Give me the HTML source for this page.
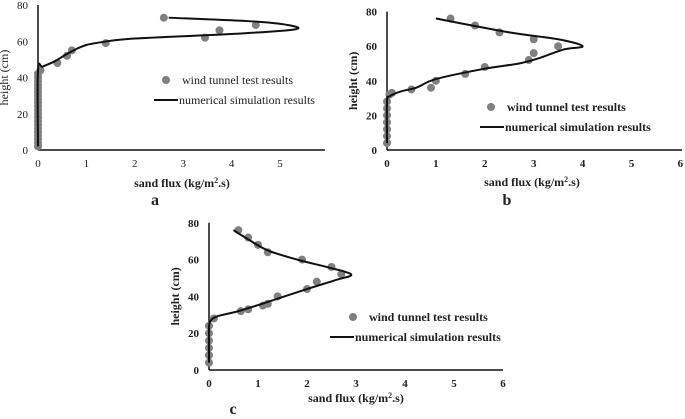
<!DOCTYPE html>
<html><head><meta charset="utf-8"><style>
html,body{margin:0;padding:0;background:#fff;}
svg{display:block;}
text{font-family:"Liberation Serif",serif;fill:#222;}
</style></head><body>
<svg id="svg" width="685" height="419"></svg>
<script>
// Panel a data
const aDotX=[2.6,4.5,3.75,3.45,1.4,0.7,0.6,0.4,0.05,0,0,0,0,0,0,0,0,0,0,0,0,0,0,0,0,0,0,0,0,0];
const aDotY=[73,69,66,62,59,55,52,48,44,42,40,38,36,34,32,30,28,26,24,22,20,18,16,14,12,10,8,6,4,2];
const aLineX=[2.7,4.4,5.15,5.3,4,2,1.2,0.9,0.6,0.35,0.1,0,0];
const aLineY=[73,71,69,66.5,64,61.5,59,57,53,49,46,44,2];
// Panel b data
const bDotX=[1.3,1.8,2.3,3,3.5,3,2.9,2,1.6,1,0.9,0.5,0.1,0.05,0,0,0,0,0,0,0];
const bDotY=[76,72,68,64,60,56,52,48,44,40,36,35,33,32,28,24,20,16,12,8,4];
const bLineX=[1,2.5,3.5,4,3.6,3.1,2.7,2,1,0.6,0.3,0.05,0,0];
const bLineY=[76,68,64,60,58,53,50,47,41,36,34,31,28,4];
// Panel c data
const cDotX=[0.6,0.8,1,1.2,1.9,2.5,2.7,2.2,2,1.4,1.2,1.1,0.8,0.65,0.1,0,0,0,0,0,0];
const cDotY=[76,72,68,64,60,56,52,48,44,40,36,35,33,32,28,24,20,16,12,8,4];
const cLineX=[0.5,0.8,1.2,1.8,2.4,2.9,2.6,2,1.2,0.6,0.15,0.02,0,0];
const cLineY=[76,71,65,60,56,52,49,44,37,32,29,26,22,4];
const xTicks=["0","1","2","3","4","5","6"];
const yTicks=["0","20","40","60","80"];

const NS="http://www.w3.org/2000/svg";
const svg=document.getElementById('svg');
function mk(tag,attrs,parent){const e=document.createElementNS(NS,tag);for(const k in attrs)e.setAttribute(k,attrs[k]);(parent||svg).appendChild(e);return e;}
function smooth(pts){let d=`M${pts[0][0]},${pts[0][1]}`;for(let i=0;i<pts.length-1;i++){const p0=pts[Math.max(0,i-1)],p1=pts[i],p2=pts[i+1],p3=pts[Math.min(pts.length-1,i+2)];const c1=[p1[0]+(p2[0]-p0[0])/6,p1[1]+(p2[1]-p0[1])/6],c2=[p2[0]-(p3[0]-p1[0])/6,p2[1]-(p3[1]-p1[1])/6];d+=` C${c1[0]},${c1[1]} ${c2[0]},${c2[1]} ${p2[0]},${p2[1]}`;}return d;}

function panel(o){
  const g=mk('g',{});
  
  
  const sx=v=>o.x0+v*o.dx, sy=v=>o.y0-v*o.dy;
  const fw=o.bold?'bold':'normal';
  const ya=mk('line',{x1:o.x0,y1:sy(80),x2:o.x0,y2:o.y0,stroke:'#111','stroke-width':1.5},g);
  
  const xa=mk('line',{x1:o.x0,y1:o.y0,x2:o.xEnd,y2:o.y0,stroke:'#111','stroke-width':1.5},g);
  
  xTicks.slice(0,o.nx).forEach(t=>{const e=mk('text',{x:sx(+t),y:o.y0+17,'text-anchor':'middle','font-size':11,'font-weight':fw},g);e.textContent=t;});
  yTicks.forEach(t=>{const e=mk('text',{x:o.x0-10,y:sy(+t)+4,'text-anchor':'end','font-size':11,'font-weight':fw},g);e.textContent=t;});
  const yt=mk('text',{x:0,y:0,transform:`translate(${o.x0-30},${sy(40)}) rotate(-90)`,'text-anchor':'middle','font-size':12,'font-weight':o.bold?'bold':'normal',fill:o.bold?'#222':'#555'},g);
  yt.textContent='height (cm)';
  const xt=mk('text',{x:o.tx,y:o.ty,'text-anchor':'middle','font-size':12,'font-weight':'bold',fill:o.bold?'#222':'#555'},g);
  xt.innerHTML='sand flux (kg/m<tspan font-size="8" dy="-4">2</tspan><tspan dy="4">.s)</tspan>';
  
  const lb=mk('text',{x:o.lx,y:o.ly,'text-anchor':'middle','font-size':16,'font-weight':'bold'},g);
  lb.textContent=o.id;
  o.dxs.forEach((v,i)=>{const c=mk('circle',{cx:sx(v),cy:sy(o.dys[i]),r:4,fill:'#808080'},g);});
  const pts=o.lxs.map((v,i)=>[sx(v),sy(o.lys[i])]);
  const p=mk('path',{d:smooth(pts),fill:'none',stroke:'#111','stroke-width':2},g);
  
  const ld=mk('circle',{cx:o.legX,cy:o.legY,r:4,fill:'#808080'},g);
  
  const l1=mk('text',{x:o.legX+16,y:o.legY+4,'font-size':12,'font-weight':fw},g);
  l1.textContent='wind tunnel test results';
  const ll=mk('line',{x1:o.legLX,y1:o.legY2,x2:o.legLX+24,y2:o.legY2,stroke:'#111','stroke-width':2},g);
  
  const l2=mk('text',{x:o.legLX+25,y:o.legY2+4,'font-size':12,'font-weight':fw},g);
  l2.textContent='numerical simulation results';
}
panel({id:'a',bold:false,x0:38,y0:150,dx:48.4,dy:1.8125,xEnd:325,nx:6,tx:182,ty:187,lx:155,ly:205,dxs:aDotX,dys:aDotY,lxs:aLineX,lys:aLineY,legX:166,legY:80,legLX:154,legY2:100});
panel({id:'b',bold:true,x0:387,y0:150,dx:48.9,dy:1.73,xEnd:682,nx:7,tx:532,ty:186,lx:507,ly:205,dxs:bDotX,dys:bDotY,lxs:bLineX,lys:bLineY,legX:491,legY:107,legLX:480,legY2:127});
panel({id:'c',bold:true,x0:209,y0:370,dx:49,dy:1.84,xEnd:503,nx:7,tx:356,ty:402,lx:233,ly:414,dxs:cDotX,dys:cDotY,lxs:cLineX,lys:cLineY,legX:353,legY:317,legLX:330,legY2:337});
</script>
</body></html>
